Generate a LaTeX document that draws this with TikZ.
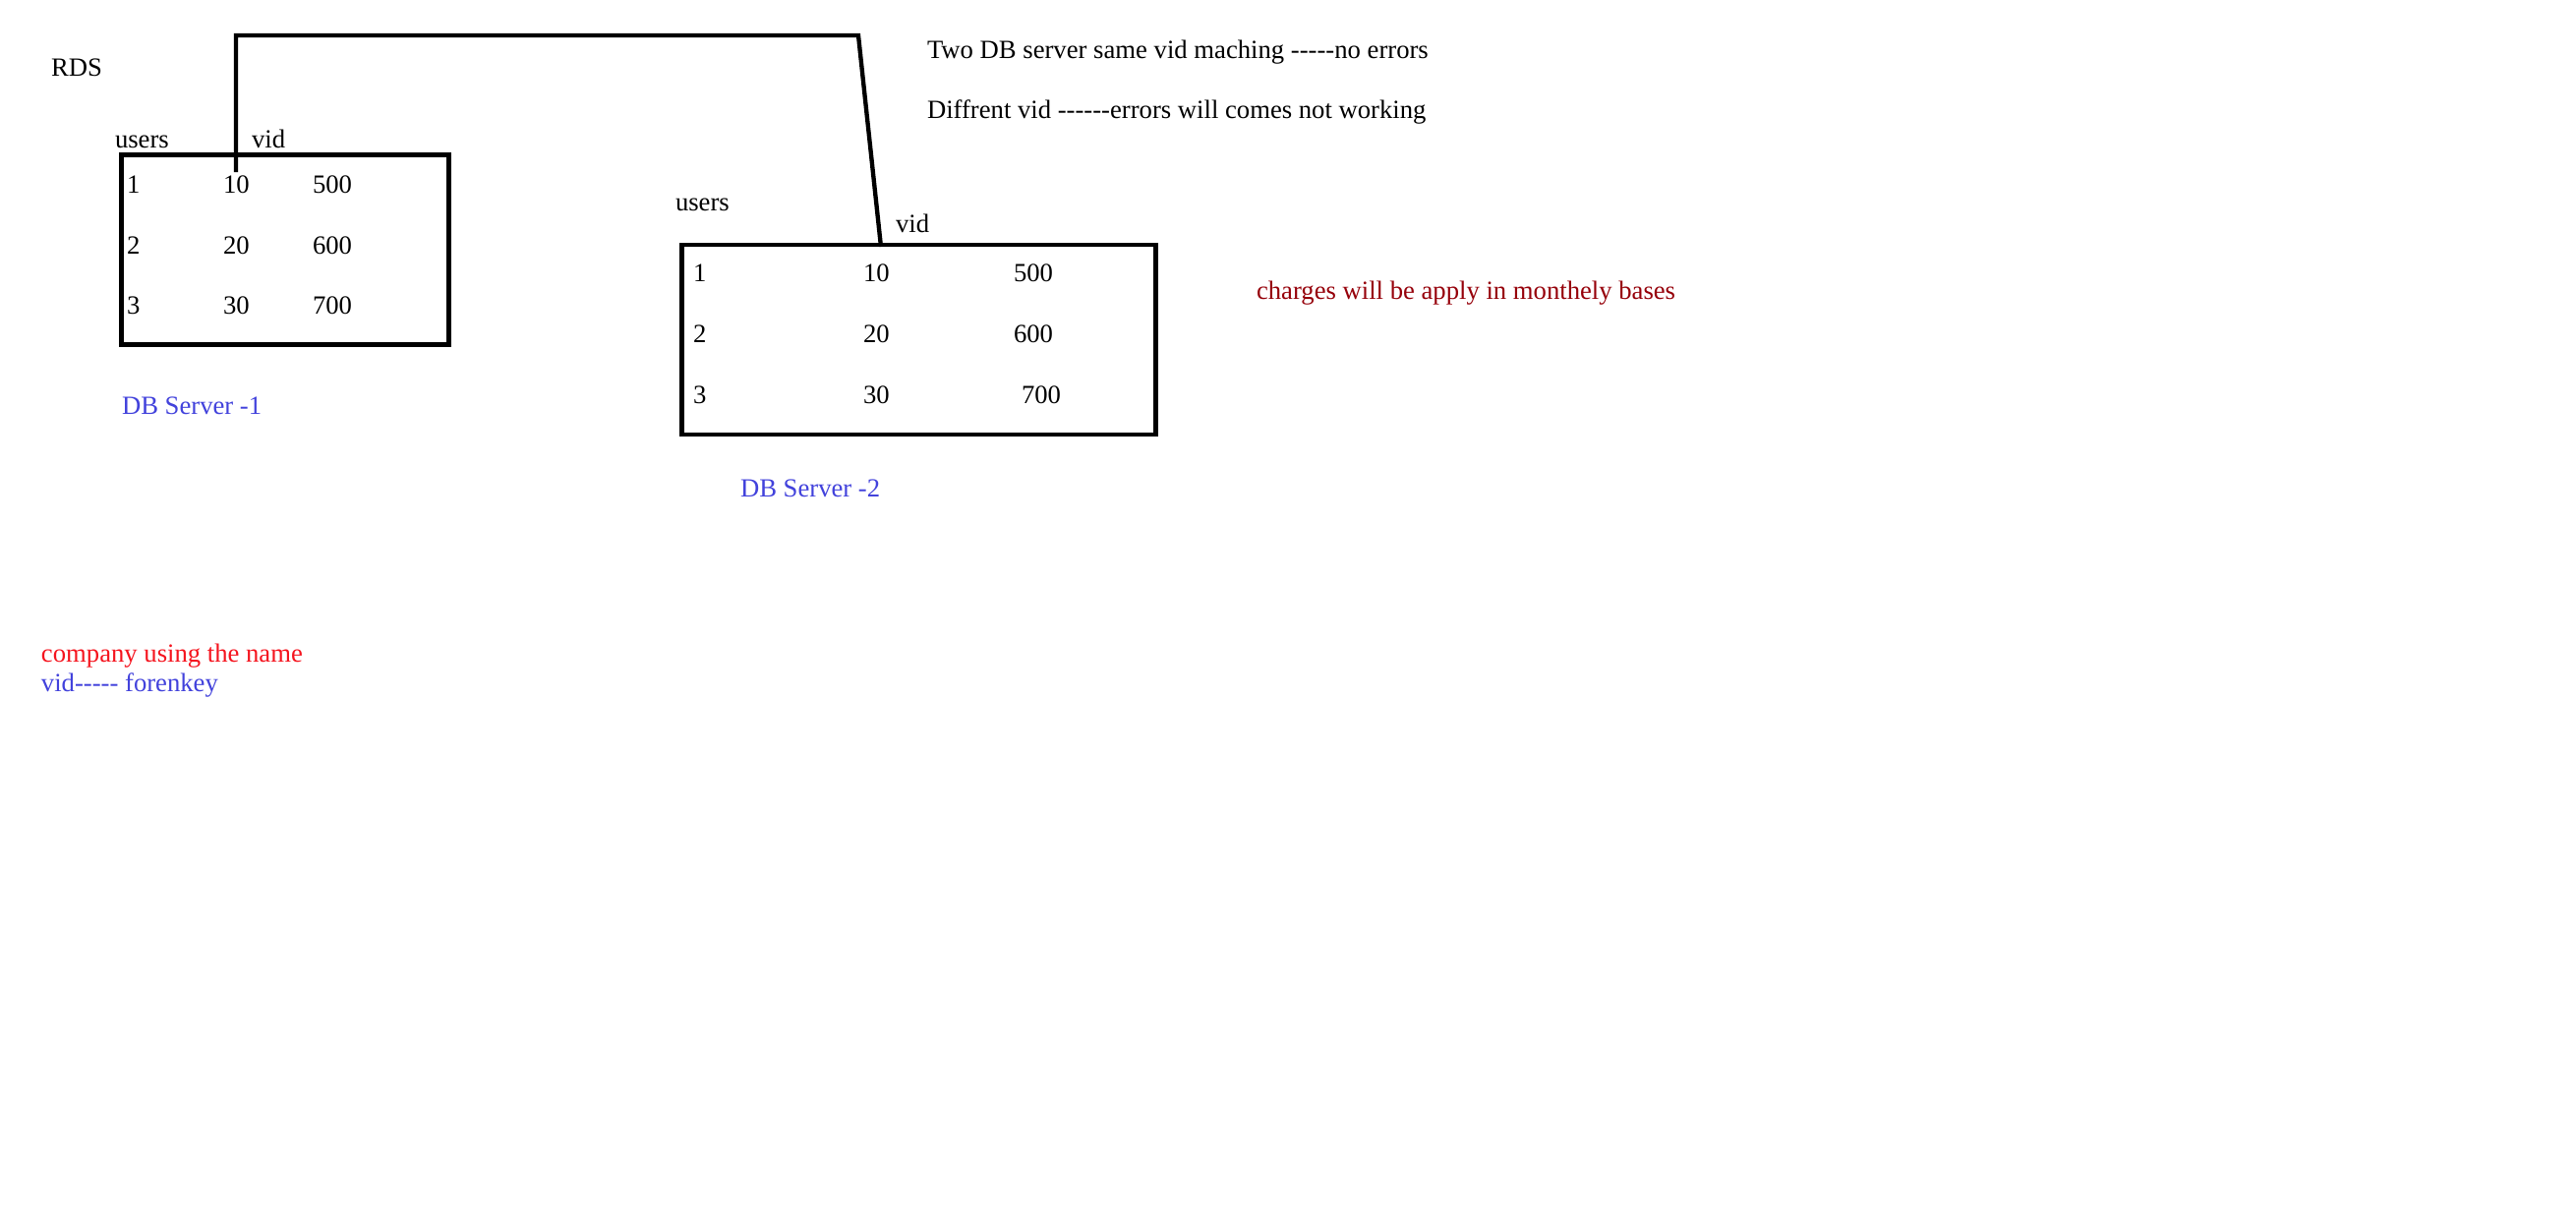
\documentclass[tikz,border=0pt]{standalone}
\usepackage{fontspec}
\setmainfont{Liberation Serif}[Ligatures=TeXOff]
\definecolor{lblblue}{RGB}{66,66,220}
\definecolor{lblred}{RGB}{245,20,30}
\definecolor{lbldark}{RGB}{150,0,10}
\begin{document}
\begin{tikzpicture}[x=0.6pt,y=-0.6pt,
  txt/.style={anchor=base west,inner sep=0pt,outer sep=0pt,font=\fontsize{16pt}{19pt}\selectfont},
  tablebox/.style={draw=black,line width=2.9pt,anchor=north west,inner sep=0pt,outer sep=0pt},
  link/.style={draw=black,line width=2.6pt}]
\useasboundingbox (0,0) rectangle (2620,1244);
\fill[white] (0,0) rectangle (2620,1244);
% table boxes
\node[tablebox,minimum width=199.8pt,minimum height=115.8pt] (srv1) at (123.5,157.5) {};
\node[tablebox,minimum width=289.2pt,minimum height=115.8pt] (srv2) at (693.5,249) {};
% texts
\node[txt] (rds) at (52,77) {RDS};
\node[txt] (u1) at (117,150) {users};
\node[txt] (v1) at (256,150) {vid};
\node[txt] (a11) at (129,196) {1};
\node[txt] (a12) at (227,196) {10};
\node[txt] (a13) at (318,196) {500};
\node[txt] (a21) at (129,258) {2};
\node[txt] (a22) at (227,258) {20};
\node[txt] (a23) at (318,258) {600};
\node[txt] (a31) at (129,319) {3};
\node[txt] (a32) at (227,319) {30};
\node[txt] (a33) at (318,319) {700};
\node[txt,text=lblblue] (l1) at (124,421) {DB Server -1};
\node[txt] (n1) at (943,59) {Two DB server same vid maching -----no errors};
\node[txt] (n2) at (943,120) {Diffrent vid ------errors will comes not working};
\node[txt] (u2) at (687,214) {users};
\node[txt] (v2) at (911,236) {vid};
\node[txt] (b11) at (705,286) {1};
\node[txt] (b12) at (878,286) {10};
\node[txt] (b13) at (1031,286) {500};
\node[txt] (b21) at (705,348) {2};
\node[txt] (b22) at (878,348) {20};
\node[txt] (b23) at (1031,348) {600};
\node[txt] (b31) at (705,410) {3};
\node[txt] (b32) at (878,410) {30};
\node[txt] (b33) at (1039,410) {700};
\node[txt,text=lbldark] (chg) at (1278,304) {charges will be apply in monthely bases};
\node[txt,text=lblblue] (l2) at (753,505) {DB Server -2};
\node[txt,text=lblred] (c1) at (42,673) {company using the name};
\node[txt,text=lblblue] (c2) at (42,703) {vid----- forenkey};
% connector between the vid columns
\coordinate (p1) at (240,175);
\coordinate (p2) at (240,36);
\coordinate (p3) at (873,36);
\coordinate (p4) at (896,251);
\draw[link] (p1) -- (p2) -- (p3) -- (p4);
\end{tikzpicture}
\end{document}
